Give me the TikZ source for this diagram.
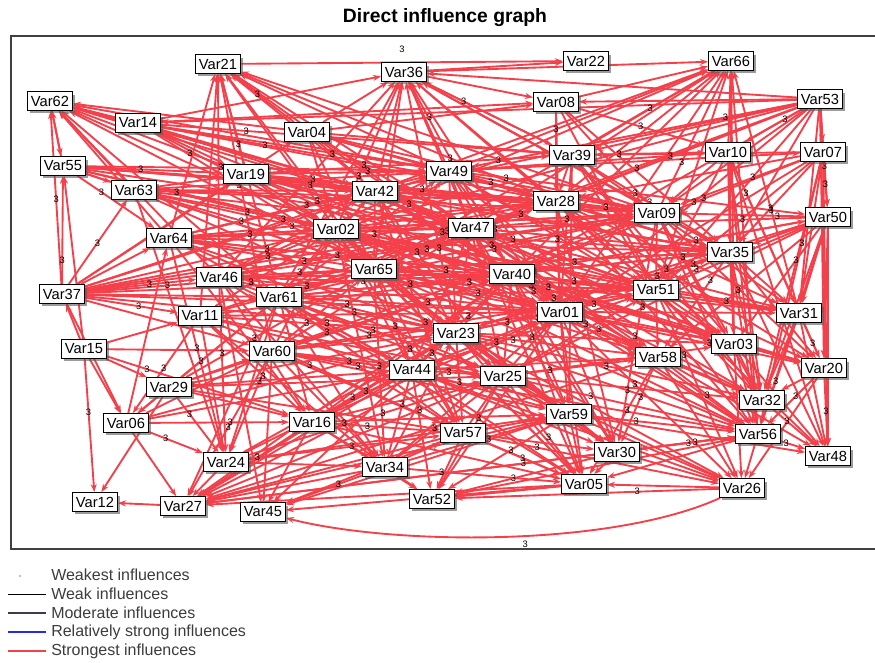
\documentclass[tikz,border=0pt]{standalone}
\usepackage{fontspec}
\setmainfont{Liberation Sans}
\usetikzlibrary{arrows.meta,shadows}

\definecolor{strongred}{RGB}{244,64,74}
\definecolor{modgray}{RGB}{60,60,80}
\definecolor{relblue}{RGB}{40,40,230}
\definecolor{legendtext}{RGB}{60,60,60}

\pgfdeclarelayer{frame}
\pgfdeclarelayer{edges}
\pgfdeclarelayer{labels}
\pgfsetlayers{frame,edges,labels,main}

%influence list (source/target)
\newcommand{\infllist}{36/66, 08/66, 39/66, 49/66, 28/66, 09/66, 35/66, 10/66, 56/66, 42/66, 47/66, 02/66,
  53/08, 53/36, 53/49, 53/42, 53/39, 53/02, 53/47, 53/14, 53/10, 53/09, 53/35, 53/28, 53/40, 53/48, 53/65,
  14/62, 04/62, 19/62, 63/62, 55/62, 37/62, 42/62, 49/62, 02/62, 64/62, 62/55,
  04/21, 42/21, 02/21, 65/21, 46/21, 11/21, 19/21, 49/21, 47/21, 40/21,
  04/36, 42/36, 02/36, 49/36, 47/36, 40/36, 28/36, 39/36, 09/36, 65/36, 14/36,
  37/55, 15/55, 37/64, 37/63, 37/02, 37/42, 37/65, 37/19, 37/04, 37/46, 37/47,
  15/37, 15/12, 15/06, 15/60, 15/16, 15/11,
  29/06, 11/06, 37/06, 29/12, 29/24, 06/27, 06/64, 06/16,
  27/12, 24/27, 16/27, 34/27, 57/27, 25/27, 59/27, 44/27, 60/27, 61/27, 05/27,
  26/52, 05/52, 56/52, 30/52, 34/52, 16/52, 59/52, 26/05,
  56/26, 56/48, 50/48, 07/48, 20/48, 31/48, 03/48, 32/48, 35/48,
  07/09, 07/35, 07/01, 07/51, 07/40, 07/28, 07/39,
  50/09, 50/35, 50/51, 50/32, 50/20, 50/56, 50/03, 50/01, 50/47,
  31/56, 31/32, 20/32, 20/56, 03/56, 03/32, 35/32, 51/32, 51/56, 58/56, 58/26, 01/56, 25/56,
  59/26, 44/26, 23/56, 40/56, 47/56, 65/56, 02/56, 30/26, 57/26,
  02/47, 02/40, 02/01, 02/09, 02/28, 02/35, 02/51,
  65/40, 65/01, 65/47, 65/23, 65/09, 65/51, 65/35,
  42/47, 42/28, 42/09, 42/40, 49/09, 49/35, 49/28, 49/40,
  47/35, 47/51, 47/09, 47/01, 40/51, 40/35, 40/09, 01/51, 01/35, 23/51, 23/01, 23/35,
  44/01, 44/51, 25/01, 25/51,
  61/40, 61/01, 61/47, 61/23, 46/40, 46/47, 46/01, 46/65, 64/47, 64/40, 64/02, 64/65, 64/42,
  63/47, 63/40, 63/02, 63/42, 55/47, 55/02, 55/42,
  14/49, 14/39, 14/08, 14/42, 04/08, 04/39, 04/49, 04/42, 19/49, 19/39, 19/28, 19/09, 19/42,
  46/24, 46/45, 60/45, 60/24, 11/24, 61/24, 64/24, 63/24, 16/45, 34/45, 57/45,
  23/05, 25/05, 01/05, 40/05, 58/05, 59/05, 44/05, 65/05, 47/05, 30/05,
  65/34, 61/34, 60/34, 44/34, 02/34,
  46/16, 11/16, 61/16, 64/16,
  02/58, 65/58, 47/59, 40/30, 42/57, 02/57, 28/30, 09/30, 39/59,
  09/03, 35/03, 51/03, 40/31, 09/20, 35/20, 28/20, 10/56, 10/32,
  08/28, 08/09, 39/28, 39/35, 10/09, 10/35, 10/51,
  60/01, 60/23, 60/44, 60/25, 11/25, 11/23, 29/44, 29/16, 16/23, 16/25,
  44/57, 23/57, 24/57, 34/57, 61/44, 46/44, 37/61, 37/11, 37/60, 15/29, 55/19, 14/19,
  02/23, 02/25, 02/44, 02/59, 02/03, 02/31, 02/20, 02/30, 02/05,
  65/25, 65/44, 65/59, 65/03, 65/31, 65/57, 65/30, 65/28, 65/49,
  42/01, 42/51, 42/35, 42/23, 42/25, 42/58, 42/03, 42/65,
  49/47, 49/51, 49/01, 49/23, 49/58, 49/03, 49/10, 49/07, 49/50,
  47/23, 47/25, 47/58, 47/03, 47/32, 47/31, 47/30, 47/28,
  40/01, 40/23, 40/25, 40/58, 40/59, 40/03, 40/32, 40/20, 40/50,
  01/58, 01/03, 01/32, 01/20, 01/31, 01/59, 01/26, 01/30,
  23/25, 23/58, 23/59, 23/03, 23/32, 23/26, 23/30,
  44/25, 44/59, 44/58, 44/40, 44/47, 44/65, 44/23, 44/30,
  25/59, 25/58, 25/03, 25/26, 25/30, 25/32,
  61/65, 61/02, 61/42, 61/49, 61/09, 61/51, 61/35, 61/25, 61/59, 61/05, 61/57,
  46/02, 46/42, 46/49, 46/09, 46/23, 46/51, 46/35, 46/25, 46/57, 46/34,
  60/65, 60/02, 60/40, 60/47, 60/51, 60/09, 60/59, 60/57, 60/05, 60/56,
  11/65, 11/02, 11/40, 11/47, 11/01, 11/44, 11/57, 11/34,
  64/23, 64/01, 64/09, 64/51, 64/49, 64/28, 64/35, 64/44, 64/25,
  63/65, 63/49, 63/28, 63/09, 63/23, 63/01, 63/19,
  55/65, 55/49, 55/28, 55/40, 55/09, 55/63, 55/64,
  37/40, 37/23, 37/01, 37/49, 37/28, 37/09,
  19/02, 19/47, 19/40, 19/65, 19/01, 19/51, 19/35,
  04/02, 04/47, 04/40, 04/28, 04/09, 04/35, 04/65,
  14/02, 14/47, 14/28, 14/09, 14/65, 14/40,
  16/40, 16/01, 16/44, 16/57, 16/59, 16/05, 16/34,
  29/60, 29/61, 29/65, 29/23, 29/25, 29/40, 29/57,
  06/60, 06/61, 06/44, 06/23, 06/24,
  24/44, 24/23, 24/25, 24/59, 24/34,
  34/25, 34/23, 34/59, 34/05, 34/01,
  57/59, 57/05, 57/25, 57/30, 59/56, 59/30, 59/48, 30/56, 58/32, 58/48, 58/30,
  09/51, 09/35, 09/31, 09/32, 09/56,
  28/09, 28/35, 28/51, 28/01, 28/03, 28/56, 28/31,
  39/09, 39/51, 39/01, 39/03, 39/32, 39/10,
  08/35, 08/51, 08/10, 08/01, 36/08, 36/39, 36/22,
  53/07, 53/50, 53/31, 53/20, 53/51, 53/01,
  10/03, 10/31, 10/48, 10/20, 07/50, 07/31, 07/32, 07/56,
  50/31, 50/58, 50/25, 50/40, 50/23,
  35/51, 35/56, 35/31, 35/58, 35/01,
  51/58, 51/31, 51/20, 51/48, 51/26, 03/20, 03/26, 31/20, 20/26,
  61/21, 60/21, 64/21, 09/21, 28/21,
  46/36, 61/36, 35/36, 01/36, 51/36, 23/36,
  51/66, 40/66, 65/66, 01/66, 03/66, 31/66,
  46/62, 61/62, 65/62, 47/62,
  56/05, 56/30, 44/52, 57/52, 25/52, 01/52,
  23/27, 01/27, 40/27, 58/27, 56/27, 30/27, 44/45, 59/45, 05/45}

\tikzset{every picture/.style={line width=0.75pt}}
\tikzset{
  var/.style={draw=black, fill=white, line width=0.9pt, inner xsep=2.5pt, inner ysep=1pt,
    minimum height=14pt, font=\fontsize{11}{12}\selectfont,
    drop shadow={shadow xshift=2pt, shadow yshift=-2.2pt, opacity=0.6, fill=black!65}},
  infl/.style={draw=strongred, line width=1.4pt, -{Stealth[length=6pt,width=4.5pt]}},
  lbl/.style={font=\fontsize{7}{8}\selectfont, inner sep=0.5pt, text=black},
  legendlbl/.style={anchor=west, font=\fontsize{12}{13}\selectfont, text=legendtext, inner sep=0pt}
}

\begin{document}
\begin{tikzpicture}[x=0.75pt,y=0.75pt,yscale=-1,xscale=1]
\useasboundingbox (0,0) rectangle (875,663);

%Title
\node[font=\bfseries\fontsize{14.5}{16}\selectfont] (title) at (445,18) {Direct influence graph};

%Frame
\begin{pgfonlayer}{frame}
\fill[white] (11,36) rectangle (875,549);
\draw[line width=1pt, black!75] (875,36) -- (11,36) -- (11,549) -- (875,549);
\end{pgfonlayer}

%Variables
\node[var] (v21) at (218,64) {Var21};
\node[var] (v36) at (404,72) {Var36};
\node[var] (v22) at (586,61) {Var22};
\node[var] (v66) at (731,61) {Var66};
\node[var] (v62) at (50,101) {Var62};
\node[var] (v14) at (138,123) {Var14};
\node[var] (v04) at (307,132) {Var04};
\node[var] (v08) at (556,102) {Var08};
\node[var] (v53) at (820,99) {Var53};
\node[var] (v55) at (63,166) {Var55};
\node[var] (v19) at (246,174) {Var19};
\node[var] (v49) at (449,171) {Var49};
\node[var] (v39) at (572,155) {Var39};
\node[var] (v10) at (728,152) {Var10};
\node[var] (v07) at (823,152) {Var07};
\node[var] (v63) at (134,190) {Var63};
\node[var] (v42) at (375,191) {Var42};
\node[var] (v28) at (556,201) {Var28};
\node[var] (v09) at (657,213) {Var09};
\node[var] (v50) at (828,217) {Var50};
\node[var] (v64) at (169,238) {Var64};
\node[var] (v02) at (336,229) {Var02};
\node[var] (v47) at (471,228) {Var47};
\node[var] (v35) at (730,252) {Var35};
\node[var] (v46) at (219,277) {Var46};
\node[var] (v65) at (374,269) {Var65};
\node[var] (v40) at (512,274) {Var40};
\node[var] (v37) at (62,294) {Var37};
\node[var] (v61) at (279,297) {Var61};
\node[var] (v51) at (656,290) {Var51};
\node[var] (v01) at (560,312) {Var01};
\node[var] (v31) at (799,313) {Var31};
\node[var] (v11) at (200,316) {Var11};
\node[var] (v23) at (456,333) {Var23};
\node[var] (v15) at (84,349) {Var15};
\node[var] (v60) at (272,351) {Var60};
\node[var] (v03) at (734,344) {Var03};
\node[var] (v58) at (658,357) {Var58};
\node[var] (v20) at (824,368) {Var20};
\node[var] (v44) at (412,370) {Var44};
\node[var] (v25) at (503,376) {Var25};
\node[var] (v29) at (169,387) {Var29};
\node[var] (v32) at (762,400) {Var32};
\node[var] (v59) at (569,414) {Var59};
\node[var] (v06) at (126,423) {Var06};
\node[var] (v16) at (312,422) {Var16};
\node[var] (v57) at (463,433) {Var57};
\node[var] (v56) at (758,434) {Var56};
\node[var] (v30) at (617,452) {Var30};
\node[var] (v48) at (828,456) {Var48};
\node[var] (v24) at (226,462) {Var24};
\node[var] (v34) at (385,467) {Var34};
\node[var] (v05) at (584,484) {Var05};
\node[var] (v26) at (742,488) {Var26};
\node[var] (v52) at (432,499) {Var52};
\node[var] (v12) at (95,502) {Var12};
\node[var] (v27) at (183,506) {Var27};
\node[var] (v45) at (263,512) {Var45};

%Influences
\begin{pgfonlayer}{edges}
\draw[infl] (v21) -- (v22);
\draw[infl] (v26) .. controls (610,548) and (390,545) .. (v45);
\foreach \a/\b in \infllist {
  \draw[infl] (v\a) -- (v\b);
}
\end{pgfonlayer}

%Influence values
\begin{pgfonlayer}{labels}
\path (v21) -- node[lbl, above=7pt] {3} (v22);
\path (v26) .. controls (610,548) and (390,545) .. node[lbl, pos=0.45, below=3pt] {3} (v45);
\foreach \a/\b [count=\i] in \infllist {
  \pgfmathsetmacro\p{0.22+0.09*mod(\i,5)}
  \pgfmathtruncatemacro\r{mod(\i,3)}
  \ifnum\r=0
    \path (v\a) -- (v\b) node[lbl, pos=\p] {3};
  \fi
}
\end{pgfonlayer}

%Legend
\node[legendlbl] (lg1) at (51,575) {Weakest influences};
\node[legendlbl] (lg2) at (51,594) {Weak influences};
\node[legendlbl] (lg3) at (51,613) {Moderate influences};
\node[legendlbl] (lg4) at (51,632) {Relatively strong influences};
\node[legendlbl] (lg5) at (51,651) {Strongest influences};
\draw[black!25, line width=1pt] (19,576) -- (21,576);
\draw[black, line width=0.6pt] (8,594) -- (46,594);
\draw[modgray, line width=0.9pt] (8,613) -- (46,613);
\draw[relblue, line width=1.3pt] (8,632) -- (46,632);
\draw[strongred, line width=1.6pt] (8,651) -- (46,651);

\end{tikzpicture}
\end{document}
